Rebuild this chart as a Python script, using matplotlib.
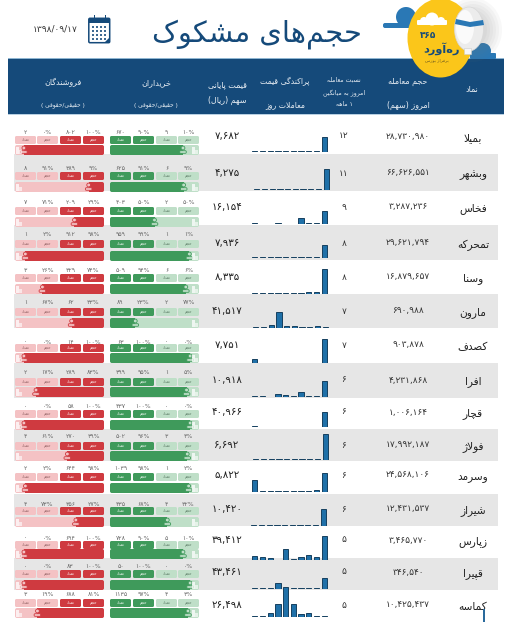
import matplotlib
matplotlib.use("Agg")
import matplotlib.pyplot as plt
from matplotlib.patches import Rectangle, FancyBboxPatch, Circle, Ellipse, Polygon

# داده‌ها
NAMADS = ["بمیلا", "وبشهر", "فخاس", "تمحرکه", "وسنا", "مارون", "کصدف", "افرا", "قچار", "فولاژ",
          "وسرمد", "شیراز", "زپارس", "قپیرا", "کماسه"]
VOLUMES = ["۲۸,۷۳۰,۹۸۰", "۶۶,۶۲۶,۵۵۱", "۳,۲۸۷,۲۳۶", "۲۹,۶۲۱,۷۹۴", "۱۶,۸۷۹,۶۵۷", "۶۹۰,۹۸۸", "۹۰۳,۸۷۸",
           "۴,۲۳۱,۸۶۸", "۱,۰۰۶,۱۶۴", "۱۷,۹۹۲,۱۸۷", "۲۴,۵۶۸,۱۰۶", "۱۲,۴۳۱,۵۳۷", "۳,۴۶۵,۷۷۰", "۳۴۶,۵۴۰",
           "۱۰,۴۲۵,۴۳۷"]
RATIOS = ["۱۲", "۱۱", "۹", "۸", "۸", "۷", "۷", "۶", "۶", "۶", "۶", "۶", "۵", "۵", "۵"]
PRICES = ["۷,۶۸۲", "۴,۲۷۵", "۱۶,۱۵۴", "۷,۹۳۶", "۸,۳۳۵", "۴۱,۵۱۷", "۷,۷۵۱", "۱۰,۹۱۸", "۴۰,۹۶۶", "۶,۶۹۲",
          "۵,۸۲۲", "۱۰,۴۲۰", "۳۹,۴۱۲", "۴۳,۴۶۱", "۲۶,۴۹۸"]

# فروشندگان: حقوقی تعداد / حقوقی حجم / حقیقی تعداد / حقیقی حجم
SELL_A_COUNT = [2, 8, 7, 1, 3, 1, 0, 2, 0, 4, 2, 4, 0, 0, 3]
SELL_A_PCT = [0, 91, 71, 2, 26, 67, 0, 17, 0, 61, 2, 73, 0, 0, 19]
SELL_B_COUNT = [802, 389, 209, 912, 329, 62, 14, 289, 58, 270, 644, 356, 694, 83, 688]
SELL_B_PCT = [100, 9, 29, 98, 74, 33, 100, 83, 100, 39, 98, 27, 100, 100, 81]
# خریداران
BUY_A_COUNT = [670, 625, 403, 959, 509, 89, 63, 399, 437, 502, 1039, 435, 728, 50, 1135]
BUY_A_PCT = [90, 91, 50, 99, 94, 23, 100, 95, 100, 96, 98, 68, 90, 100, 97]
BUY_B_COUNT = [9, 6, 2, 1, 6, 2, 0, 1, 0, 3, 1, 4, 5, 0, 4]
BUY_B_PCT = [10, 9, 50, 1, 6, 77, 0, 5, 0, 4, 2, 32, 10, 0, 3]

HIST = [
    [.6, .6, .6, .6, 1, 1.3, 1.3, 1.3, .7, 15],
    [.8, .6, .6, .6, .6, .6, .6, .6, .6, 21],
    [.7, 0, 0, .7, 0, 0, 6, 1.5, .7, 13],
    [.6, .6, 1, 1.5, 1, 1, .8, .6, .6, 13.5],
    [.8, .7, .7, .7, 1, .8, .7, 1.8, 1.5, 25],
    [1, 1, 3, 16, 2, 2, 1, 1, 1.5, 1],
    [4.5, 0, 0, 0, 0, 0, 0, 0, 0, 24],
    [.6, .6, 0, 3, 2.2, 1.5, 5, 1, .6, 16],
    [.6, 0, 0, 0, 0, 0, 0, 0, 0, 15.5],
    [.7, .7, .7, .7, .7, .7, 1.1, .7, .7, 26],
    [12, .6, .8, .6, .7, .8, .8, .7, 2, 19],
    [.6, .6, .6, .6, .6, .6, .6, .6, .6, 17],
    [4.5, 3.5, 2.5, .5, 11.5, 1.5, 3, 5, 3, 24],
    [.6, .6, .6, 6.5, .7, .7, .6, .6, .8, 11],
    [.7, 1.5, 4, 13, 30, 13, 2.7, 4, 1, 1],
]

# چیدمان ردیف‌ها بر حسب پیکسل
ROW_TOP = [120, 154, 191, 225, 260, 294, 328, 363, 398, 429, 461, 494, 526, 558, 590]
ROW_BOTTOM = ROW_TOP[1:] + [622]
VALUE_Y = [132, 168, 203, 235, 271, 303, 342, 373, 407, 437, 469, 504, 538, 567, 595]
CHIP_Y = [136, 172, 207, 240, 274, 308, 344, 378, 410, 442, 473, 507, 541, 570, 599]
BAR_Y = [145, 182, 217, 251, 284, 318, 353, 387, 420, 451, 483, 517, 549, 580, 608]
TEXT_Y = [136, 173, 207, 243, 277, 311, 345, 380, 412, 445, 475, 509, 540, 572, 605]
HIST_BASE = [152, 190, 224, 258, 294, 328, 363, 397, 427, 460, 492, 526, 560, 589, 617]
HIST_DX = [0, 2, 0, 0, 0, 1, 0, 0, 0, 1, 0, -1, 0, 0, 0]

NAVY = "#154a7a"
RED_D, RED_L = "#cf3a40", "#f4c2c4"
GREEN_D, GREEN_L = "#3f9a5b", "#bfdfc8"
GRAY_BAND = "#e6e6e6"

# شکل‌دهی حروف فارسی: ایزوله، پایانی، آغازی، میانی
FORMS = {
    "ا": "ﺍﺎ", "آ": "ﺁﺂ", "د": "ﺩﺪ", "ذ": "ﺫﺬ", "ر": "ﺭﺮ", "ز": "ﺯﺰ", "ژ": "ﮊﮋ", "و": "ﻭﻮ",
    "ب": "ﺏﺐﺑﺒ", "پ": "ﭖﭗﭘﭙ", "ت": "ﺕﺖﺗﺘ", "ج": "ﺝﺞﺟﺠ", "چ": "ﭺﭻﭼﭽ", "ح": "ﺡﺢﺣﺤ", "خ": "ﺥﺦﺧﺨ",
    "س": "ﺱﺲﺳﺴ", "ش": "ﺵﺶﺷﺸ", "ص": "ﺹﺺﺻﺼ", "ع": "ﻉﻊﻋﻌ", "ف": "ﻑﻒﻓﻔ", "ق": "ﻕﻖﻗﻘ", "ک": "ﮎﮏﮐﮑ",
    "گ": "ﮒﮓﮔﮕ", "ل": "ﻝﻞﻟﻠ", "م": "ﻡﻢﻣﻤ", "ن": "ﻥﻦﻧﻨ", "ه": "ﻩﻪﻫﻬ", "ی": "ﯼﯽﯾﯿ",
}
MIRROR = {"(": ")", ")": "("}


def fa(text):
    text = text.replace("لا", "\ufefb")
    out = []
    for i, ch in enumerate(text):
        if ch == "\ufefb":
            prev = text[i - 1] if i > 0 else ""
            out.append("\ufefc" if len(FORMS.get(prev, "")) == 4 else ch)
            continue
        if ch == "\u200c":
            continue
        if ch not in FORMS:
            out.append(MIRROR.get(ch, ch))
            continue
        forms = FORMS[ch]
        prev = text[i - 1] if i > 0 else ""
        nxt = text[i + 1] if i + 1 < len(text) else ""
        joins_prev = len(FORMS.get(prev, "")) == 4
        joins_next = len(forms) == 4 and (nxt in FORMS or nxt == "\ufefb")
        if joins_prev and joins_next:
            out.append(forms[3])
        elif joins_next:
            out.append(forms[2])
        elif joins_prev:
            out.append(forms[1])
        else:
            out.append(forms[0])
    return "".join(reversed(out))


FA_DIGITS = str.maketrans("0123456789", "۰۱۲۳۴۵۶۷۸۹")


def num(v):
    return str(v).translate(FA_DIGITS)


fig = plt.figure(figsize=(5.14, 6.22), dpi=100)
ax = fig.add_axes([0, 0, 1, 1])
ax.set_xlim(0, 514)
ax.set_ylim(622, 0)
ax.axis("off")


def rbox(x0, y0, x1, y1, color, r=1.5, z=3, **kw):
    p = FancyBboxPatch((x0 + r, y0 + r), x1 - x0 - 2 * r, y1 - y0 - 2 * r,
                       boxstyle=f"round,pad={r},rounding_size={r}",
                       fc=color, ec="none", zorder=z, **kw)
    ax.add_patch(p)
    return p


def label(x, y, s, size=6, color="#333333", z=6, **kw):
    ax.text(x, y, s, fontsize=size, color=color, ha="center", va="center", zorder=z, **kw)


def person(x, y, dark, light):
    ax.add_patch(Circle((x, y + 3), 1.9, fc=light, ec=dark, lw=0.6, zorder=5))
    ax.add_patch(FancyBboxPatch((x - 2.8, y + 6.2), 5.6, 1.6, boxstyle="round,pad=0.5,rounding_size=1",
                                fc=light, ec=dark, lw=0.6, zorder=5))


def building(x, y):
    ax.add_patch(Rectangle((x, y + 2), 3.4, 7, fc="white", alpha=0.75, ec="none", zorder=5))
    ax.add_patch(Rectangle((x + 3.4, y + 4.5), 2.6, 4.5, fc="white", alpha=0.6, ec="none", zorder=5))


def split_x(x0, x1, pct):
    return x0 + (0.1 + 0.8 * pct / 100) * (x1 - x0)


# ردیف‌های خاکستری
for i in range(1, len(ROW_TOP), 2):
    ax.add_patch(Rectangle((14, ROW_TOP[i]), 484, ROW_BOTTOM[i] - ROW_TOP[i], fc=GRAY_BAND, ec="none", zorder=1))

RED_X = [(15, 36), (37, 58), (60, 81), (83, 104)]
GREEN_X = [(110, 131), (133, 154), (156, 177), (178, 199)]
CHIP_WORDS = ["تعداد", "حجم", "تعداد", "حجم"]

for i in range(len(NAMADS)):
    label(473, TEXT_Y[i] + 2, fa(NAMADS[i]), size=7.6, color="#222222")
    label(408, TEXT_Y[i], VOLUMES[i], size=6.5, color="#333333")
    label(344, TEXT_Y[i], RATIOS[i], size=6.5, color="#333333")
    label(227, TEXT_Y[i], PRICES[i], size=7.4, color="#1f1f1f")

    red_vals = [num(SELL_A_COUNT[i]), num(SELL_A_PCT[i]) + "%", num(SELL_B_COUNT[i]), num(SELL_B_PCT[i]) + "%"]
    green_vals = [num(BUY_A_COUNT[i]), num(BUY_A_PCT[i]) + "%", num(BUY_B_COUNT[i]), num(BUY_B_PCT[i]) + "%"]
    for j in range(4):
        col = RED_L if j < 2 else RED_D
        xa, xb = RED_X[j]
        rbox(xa, CHIP_Y[i], xb, CHIP_Y[i] + 8, col)
        label((xa + xb) / 2, VALUE_Y[i], red_vals[j], size=4.4, color="#666666")
        label((xa + xb) / 2, CHIP_Y[i] + 4, fa(CHIP_WORDS[j]), size=2.8,
              color="white" if j >= 2 else "#8a5a5c")
        col = GREEN_D if j < 2 else GREEN_L
        xa, xb = GREEN_X[j]
        rbox(xa, CHIP_Y[i], xb, CHIP_Y[i] + 8, col)
        label((xa + xb) / 2, VALUE_Y[i], green_vals[j], size=4.4, color="#666666")
        label((xa + xb) / 2, CHIP_Y[i] + 4, fa(CHIP_WORDS[j]), size=2.8,
              color="white" if j < 2 else "#55755f")

    # نوار فروش
    y0, y1 = BAR_Y[i], BAR_Y[i] + 10
    rbox(15, y0, 104, y1, RED_L, r=2)
    sx = split_x(15, 104, SELL_A_PCT[i])
    dark = rbox(15, y0, 104, y1, RED_D, r=2, z=4)
    dark.set_clip_path(Rectangle((sx, y0 - 1), 104 - sx + 1, 12, transform=ax.transData))
    person(sx, y0, RED_D, RED_L)
    building(16, y0)

    # نوار خرید
    rbox(110, y0, 199, y1, GREEN_L, r=2)
    sx = split_x(110, 199, BUY_A_PCT[i])
    dark = rbox(110, y0, 199, y1, GREEN_D, r=2, z=4)
    dark.set_clip_path(Rectangle((109, y0 - 1), sx - 109, 12, transform=ax.transData))
    person(sx, y0, GREEN_D, GREEN_L)
    building(192, y0)

    # نمودار پراکندگی قیمت
    hx = 251 + HIST_DX[i]
    hist_ax = fig.add_axes([hx / 514, 1 - HIST_BASE[i] / 622, 77 / 514, 31 / 622], zorder=7)
    hist_ax.patch.set_alpha(0)
    hist_ax.axis("off")
    hist_ax.set_xlim(-0.5, 9.5)
    hist_ax.set_ylim(0, 31)
    hist_ax.bar(range(10), HIST[i], width=0.68, color="#1f70a8", edgecolor="#16405f", linewidth=0.7)

# نوار عمودی کنار نماد آخر
ax.add_patch(Rectangle((483, 609), 2.4, 13, fc="#2a6a9c", ec="none", zorder=6))

# سربرگ
ax.add_patch(Rectangle((8, 59), 496, 55, fc=NAVY, ec="none", zorder=2))
ax.add_patch(Rectangle((8, 58.4), 496, 0.9, fc="#8fb6d2", ec="none", zorder=2))
ax.add_patch(Rectangle((8, 113.6), 496, 0.9, fc="#b8d0e2", ec="none", zorder=2))

HEADER_LINES = [
    (472, 90, "نماد", 5.8), (408, 82, "حجم معامله", 5.8), (408, 105, "امروز (سهم)", 5.8),
    (344, 79, "نسبت معامله", 4.4), (344, 93, "امروز به میانگین", 4.4), (344, 104, "۱ ماهه", 4.4),
    (285, 82, "پراکندگی قیمت", 5.6), (285, 105, "معاملات روز", 5.6),
    (227, 85, "قیمت پایانی", 5.8), (227, 100, "سهم (ریال)", 5.8),
    (156, 83, "خریداران", 5.8), (156, 105, "( حقیقی/حقوقی )", 4.2),
    (63, 83, "فروشندگان", 5.8), (63, 105, "( حقیقی/حقوقی )", 4.2),
]
for x, y, s, size in HEADER_LINES:
    label(x, y, fa(s), size=size, color="#e8eef4")

# عنوان و تاریخ
label(257, 34, fa("حجم‌های مشکوک"), size=20.8, color=NAVY)
label(55, 29, "۱۳۹۸/۰۹/۱۷", size=6.5, color="#333333")

# آیکون تقویم
ax.add_patch(FancyBboxPatch((89, 18.5), 20.5, 24, boxstyle="round,pad=0.2,rounding_size=1.2",
                            fc="white", ec=NAVY, lw=1.1, zorder=4))
ax.add_patch(Rectangle((89, 18.5), 20.5, 4, fc=NAVY, ec="none", zorder=4))
for rx in (93.5, 105):
    ax.add_patch(Rectangle((rx, 15), 1.2, 5, fc=NAVY, ec="none", zorder=5))
for ry in (26, 30, 34, 38):
    for cx in (92, 96, 100, 104):
        ax.add_patch(Rectangle((cx, ry), 2, 2, fc="#3f6a92", ec="none", zorder=5))
ax.add_patch(Polygon([(104, 43), (110, 37), (110, 43)], fc=NAVY, ec="none", zorder=5))

# لوگو: ابرها، دایره زرد، بالن
CLOUD = "#2a78b5"
for cx, cy, r in [(406, 17, 10), (416, 20, 7)]:
    ax.add_patch(Circle((cx, cy), r, fc=CLOUD, ec="none", zorder=3))
rbox(383, 23, 420, 28, CLOUD, r=2, z=3)
for cx, cy, r in [(483, 51, 8), (475, 53, 6)]:
    ax.add_patch(Circle((cx, cy), r, fc=CLOUD, ec="none", zorder=3))
rbox(470, 53, 496, 59, CLOUD, r=1, z=3)
for k in range(6):
    ax.add_patch(Ellipse((473, 30), 58 - 6 * k, 64 - 6 * k, fc="#777777", alpha=0.05, ec="none", zorder=3.2))
ax.add_patch(Ellipse((440.5, 38), 66, 79, fc="#fbc61a", ec="none", zorder=8))
for cx, cy, r in [(432, 19, 6.5), (424, 21, 4), (441, 21, 4)]:
    ax.add_patch(Circle((cx, cy), r, fc="white", ec="none", zorder=9))
rbox(417, 20, 447, 25, "white", r=1, z=9)
ax.add_patch(Ellipse((469, 29), 29, 44, fc="#ececec", ec="#d8d8d8", lw=0.5, zorder=9))
ax.add_patch(Ellipse((465, 27), 18, 34, fc="#fafafa", ec="none", zorder=9))
ax.add_patch(Polygon([(456, 19), (470, 22), (483, 20), (484, 25), (470, 27), (455, 24)], fc=CLOUD, ec="none", zorder=10))
ax.add_patch(Rectangle((464, 48), 7, 6, fc="#f6f6f6", ec="#cccccc", lw=0.4, zorder=10))
label(428, 36, "۳۶۵", size=6.5, color=NAVY, z=11, fontweight="bold")
label(442, 48.5, fa("ره‌آورد"), size=8.2, color=NAVY, z=11, fontweight="bold")
label(437, 60, fa("برفراز بورس"), size=3.2, color="#6d5a20", z=11)

fig.savefig("out.png", dpi=100)
